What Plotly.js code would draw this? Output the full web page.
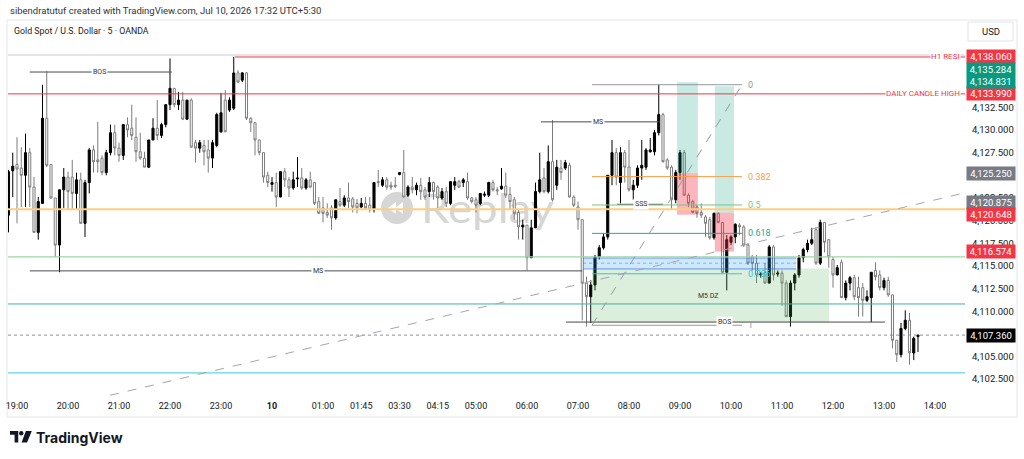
<!DOCTYPE html>
<html>
<head>
<meta charset="utf-8">
<script src="https://cdn.plot.ly/plotly-3.0.1.min.js"></script>
<style>
html,body{margin:0;padding:0;background:#ffffff;}
#chart{width:1024px;height:459px;}
</style>
</head>
<body>
<div id="chart"></div>
<script>
// ---------- DATA (XAU/USD 5-minute candles) ----------
const openPx = [
4120.6,4125.5,4126.2,4125.8,4125.0,4127.5,4123.7,4118.7,4121.9,4131.3,
4126.2,4122.5,4117.3,4123.4,4124.8,4124.8,4123.0,4124.5,4119.7,4124.2,
4127.8,4126.7,4126.9,4125.3,4127.5,4129.7,4128.0,4127.2,4130.6,4130.2,
4129.2,4127.6,4126.9,4125.9,4128.9,4130.2,4129.4,4130.6,4132.8,4134.6,
4132.8,4133.3,4131.2,4133.3,4128.6,4128.0,4128.3,4127.8,4126.9,4128.3,
4129.8,4133.3,4132.2,4132.4,4136.3,4135.5,4136.3,4131.3,4130.8,4128.9,
4127.5,4125.0,4124.0,4124.2,4122.6,4125.4,4124.5,4123.6,4124.6,4124.7,
4123.6,4124.5,4124.2,4122.1,4121.4,4120.9,4121.4,4120.3,4122.1,4121.7,
4122.5,4122.4,4121.9,4121.5,4121.9,4121.7,4121.2,4124.3,4123.9,4124.5,
4123.9,4123.9,4125.1,4125.3,4122.8,4123.7,4123.4,4123.9,4123.4,4123.2,
4124.2,4123.7,4122.5,4123.2,4121.9,4123.9,4124.3,4124.2,4124.3,4122.5,
4122.3,4121.9,4122.8,4122.8,4124.2,4123.4,4123.5,4123.8,4122.9,4122.3,
4120.9,4119.3,4119.5,4115.9,4119.2,4123.2,4124.7,4123.2,4126.5,4123.9,
4125.8,4125.8,4126.1,4122.6,4121.5,4120.1,4113.1,4111.6,4112.9,4116.0,
4117.0,4118.2,4125.0,4127.5,4124.2,4127.5,4125.9,4123.4,4123.9,4125.8,
4125.9,4127.6,4127.6,4129.7,4131.7,4126.7,4125.9,4122.3,4125.3,4127.5,
4122.8,4122.1,4121.5,4120.9,4120.4,4120.1,4118.1,4120.8,4119.8,4114.3,
4117.6,4118.2,4119.5,4119.3,4117.3,4116.0,4115.3,4114.0,4114.3,4113.1,
4117.1,4114.1,4114.2,4113.1,4109.4,4113.1,4114.0,4115.9,4116.8,4117.5,
4119.0,4115.3,4119.8,4117.9,4115.7,4114.0,4115.4,4111.5,4113.1,4113.7,
4112.6,4112.6,4111.2,4111.5,4114.5,4114.0,4112.6,4113.4,4111.8,4106.8,
4105.2,4108.1,4109.0,4105.4,4107.2];
const highPx = [
4125.6,4127.5,4129.2,4128.1,4129.6,4128.0,4124.8,4122.6,4135.0,4136.5,
4126.2,4122.5,4123.4,4125.8,4125.4,4126.7,4125.3,4125.3,4124.5,4128.0,
4128.3,4130.9,4127.2,4127.8,4130.6,4130.6,4128.6,4130.6,4131.4,4132.8,
4131.4,4129.7,4127.6,4128.9,4131.3,4133.3,4130.8,4132.8,4137.9,4134.6,
4134.2,4134.2,4133.3,4133.5,4128.9,4128.9,4128.9,4128.9,4128.9,4131.9,
4134.1,4134.4,4133.6,4138.06,4136.6,4136.4,4136.4,4131.4,4130.9,4128.9,
4127.5,4125.4,4124.8,4125.3,4125.4,4125.8,4124.8,4125.4,4127.0,4125.8,
4124.7,4125.4,4124.2,4122.6,4122.6,4121.9,4121.7,4122.3,4123.6,4122.8,
4124.2,4122.6,4122.4,4122.5,4122.6,4122.6,4124.2,4125.6,4124.8,4124.8,
4124.3,4124.8,4125.3,4127.8,4123.9,4124.8,4124.2,4124.7,4123.7,4124.8,
4124.3,4123.9,4123.6,4123.7,4124.3,4124.8,4124.5,4124.7,4125.3,4122.6,
4122.6,4123.0,4123.2,4124.3,4124.5,4123.7,4125.8,4125.3,4123.7,4122.6,
4121.2,4120.1,4119.5,4120.1,4124.2,4127.5,4125.8,4128.3,4131.1,4126.7,
4126.7,4126.7,4126.4,4122.8,4122.1,4120.1,4113.8,4113.4,4116.2,4117.3,
4118.6,4125.0,4128.9,4128.0,4128.1,4127.8,4128.9,4124.5,4126.1,4128.9,
4128.0,4129.1,4130.0,4135.0,4131.9,4126.9,4126.1,4125.6,4127.8,4127.8,
4123.0,4122.3,4121.7,4121.9,4120.6,4120.4,4120.9,4120.9,4119.8,4118.4,
4118.4,4119.7,4119.7,4119.5,4117.5,4116.2,4116.2,4114.3,4115.3,4117.3,
4117.3,4114.5,4114.5,4113.4,4113.4,4114.2,4116.2,4117.0,4117.9,4119.2,
4119.3,4120.1,4119.8,4117.9,4116.0,4115.1,4115.7,4113.4,4113.9,4114.0,
4113.8,4113.1,4112.3,4114.3,4115.4,4114.5,4113.7,4113.8,4111.8,4106.8,
4108.7,4110.1,4109.8,4107.2,4107.4];
const lowPx = [
4118.7,4122.6,4119.7,4121.5,4121.5,4121.5,4118.7,4117.9,4121.9,4125.9,
4122.4,4116.0,4114.3,4121.4,4121.2,4121.2,4121.2,4119.7,4118.2,4123.0,
4125.3,4125.3,4125.0,4125.0,4127.2,4127.2,4126.5,4126.7,4129.2,4128.9,
4126.5,4126.7,4125.9,4125.8,4128.9,4128.9,4129.1,4130.3,4132.2,4132.5,
4132.2,4131.1,4131.1,4128.1,4126.4,4127.5,4126.1,4125.3,4125.8,4128.1,
4129.7,4129.8,4132.0,4132.2,4135.2,4135.3,4131.1,4129.8,4127.2,4127.2,
4124.2,4123.7,4123.2,4121.5,4122.6,4123.7,4122.6,4123.4,4123.7,4123.4,
4123.4,4123.6,4121.7,4120.8,4119.8,4120.3,4119.0,4120.1,4121.5,4121.5,
4121.4,4120.9,4120.8,4121.4,4121.2,4120.9,4120.9,4123.7,4123.7,4123.4,
4123.4,4123.6,4125.0,4122.6,4122.6,4123.0,4122.8,4122.3,4122.3,4122.6,
4122.3,4121.4,4122.3,4121.5,4121.7,4123.4,4123.6,4123.7,4122.3,4121.9,
4120.9,4121.7,4122.6,4122.6,4123.2,4122.8,4123.4,4122.5,4121.2,4120.1,
4117.9,4117.9,4114.5,4115.9,4119.2,4123.0,4123.0,4123.0,4122.1,4123.4,
4124.5,4125.6,4122.6,4121.5,4119.0,4109.0,4108.3,4108.7,4112.3,4115.7,
4116.8,4117.9,4123.9,4123.9,4121.9,4124.2,4123.2,4122.3,4123.6,4124.5,
4125.6,4127.5,4127.2,4129.4,4126.4,4125.6,4121.2,4121.9,4124.5,4122.8,
4121.5,4120.8,4120.3,4120.3,4118.2,4117.9,4117.9,4119.7,4114.2,4112.3,
4117.3,4117.5,4118.4,4117.1,4115.1,4114.5,4113.1,4113.7,4113.1,4113.1,
4113.4,4113.8,4110.6,4109.4,4108.3,4112.3,4113.7,4115.4,4116.5,4117.3,
4115.1,4115.1,4116.5,4114.8,4112.6,4114.0,4111.5,4111.2,4112.3,4111.2,
4109.4,4109.4,4111.0,4108.8,4113.4,4112.3,4112.3,4111.6,4105.9,4104.4,
4104.9,4107.9,4104.1,4104.6,4105.5];
const closePx = [
4125.4,4126.0,4125.7,4125.0,4127.5,4123.7,4118.7,4122.1,4131.3,4126.1,
4122.5,4117.3,4123.4,4124.8,4123.2,4123.0,4124.5,4119.7,4124.2,4127.8,
4126.5,4126.5,4125.3,4127.5,4129.7,4128.0,4127.2,4130.6,4130.0,4129.4,
4127.6,4126.9,4125.9,4128.9,4130.2,4129.4,4130.6,4132.8,4134.6,4132.8,
4133.3,4131.2,4133.3,4128.1,4128.0,4128.6,4127.6,4126.9,4128.6,4131.7,
4131.9,4129.8,4133.3,4136.3,4135.3,4136.3,4131.3,4130.8,4128.9,4127.5,
4124.8,4124.2,4124.2,4122.6,4125.4,4124.5,4123.6,4124.5,4124.7,4123.6,
4124.5,4123.7,4121.9,4120.8,4120.8,4120.6,4120.3,4122.3,4121.7,4122.5,
4122.1,4121.5,4121.4,4121.9,4121.4,4121.2,4124.2,4124.2,4124.5,4123.7,
4123.7,4123.8,4125.3,4122.6,4123.7,4123.4,4123.9,4123.2,4122.6,4124.2,
4123.2,4122.5,4123.2,4121.9,4124.3,4124.3,4123.7,4124.5,4122.5,4122.1,
4121.7,4123.0,4122.9,4124.2,4123.4,4123.3,4123.8,4122.8,4122.1,4120.8,
4119.3,4119.5,4115.9,4119.2,4123.2,4124.5,4123.2,4126.5,4122.3,4125.9,
4125.3,4126.4,4122.6,4121.7,4120.1,4113.1,4111.6,4112.9,4116.0,4117.0,
4118.2,4125.0,4127.5,4124.8,4127.5,4125.9,4123.4,4123.9,4125.8,4126.1,
4127.8,4127.8,4129.7,4131.7,4126.5,4125.8,4122.3,4125.3,4127.5,4122.8,
4121.9,4120.9,4120.8,4120.6,4119.7,4118.1,4120.8,4119.8,4114.3,4117.9,
4118.2,4119.6,4119.3,4117.3,4115.3,4115.3,4114.0,4114.1,4113.1,4117.1,
4114.0,4114.2,4113.1,4109.4,4113.1,4114.0,4115.9,4116.8,4117.5,4117.9,
4115.3,4119.8,4117.6,4116.0,4114.0,4114.8,4111.5,4113.1,4113.7,4111.6,
4111.5,4111.2,4111.6,4114.3,4113.8,4112.6,4113.4,4111.8,4106.8,4105.2,
4108.1,4109.0,4105.4,4107.0,4107.36];

// bar number on the time axis (first visible bar is 18:50 = -2, 19:00 = 0)
const barNo = openPx.map((_, k) => k - 2);

// time-axis tick labels
const timeTickBars = [0,12,24,36,48,60,72,81,90,99,108,120,132,144,156,168,180,192,204,216];
const timeTickText = ['19:00','20:00','21:00','22:00','23:00','<b>10</b>','01:00','01:45','03:30','04:15','05:00','06:00','07:00','08:00','09:00','10:00','11:00','12:00','13:00','14:00'];

// price-axis tick labels (those hidden behind price tags in the reference are left out)
const priceTicks = [4102.5,4105,4110,4112.5,4115,4117.5,4120,4122.5,4127.5,4130,4132.5];
const priceTickText = ['4,102.500','4,105.000','4,110.000','4,112.500','4,115.000','4,117.500','4,120.000','4,122.500','4,127.500','4,130.000','4,132.500'];

// horizontal levels
const h1Resi = 4138.06, dailyHigh = 4133.99;
const orangeLevel = 4121.25, greenLevel = 4116.0, tealLevel = 4110.8, cyanLevel = 4103.2;
const lastPrice = 4107.36;

// structure labels (BOS / MS / SSS)
const structText  = ['BOS','MS','MS','SSS','BOS'];
const structPrice = [4136.4, 4114.45, 4130.9, 4121.8, 4108.8];
const structFrom  = [3, 3, 123.3, 141.2, 129.2];
const structTo    = [36.4, 133, 151.3, 152, 204.2];
const structTagAt = [19.5, 70.8, 136.7, 146.8, 166.4];

// fibonacci retracement
const fibRatios = [0, 0.382, 0.5, 0.618, 0.786, 1];
const fibText   = ['0','0.382','0.5','0.618','0.786','1'];
const fibColors = ['#9598a1','#f5a04a','#7cc47f','#26a69a','#38c4dc','#9598a1'];
const fibHigh = 4135.0, fibLow = 4108.45, fibFrom = 135.3, fibTo = 170.6;

// long position tools
const posFrom = [155.3, 164.2], posTo = [160.2, 168.7];
const posEntry  = [4125.25, 4120.875];
const posTarget = [4135.284, 4134.831];
const posStop   = [4120.648, 4116.574];

// zones
const dzFrom = 135.3, dzTo = 191.1, dzLow = 4108.8, dzHigh = 4114.7;
const blueFrom = 133.2, blueTo = 183.3, blueLow = 4114.66, blueMid = 4115.3, blueHigh = 4115.87;

// dashed trend line
const trendBars = [21.9, 223.06], trendPrices = [4100.72, 4123.07];

// price-scale tags
const tagText  = ['4,138.060','4,133.990','4,125.250','4,120.875','4,120.648','4,116.574','4,107.360'];
const tagPrice = [4138.06, 4133.99, 4125.25, 4122.05, 4120.648, 4116.574, 4107.36];
const tagColor = ['#f23645','#f23645','#787b86','#787b86','#f23645','#f23645','#000000'];

// ---------- LAYOUT HELPERS ----------
const PX = x => (x - 8) / 957;
const PY = y => (396 - y) / 341;
const FONT = 'Roboto, "Open Sans", sans-serif';

const shapes = [];
const annotations = [];

// outer frame, header divider, USD box
shapes.push({type:'rect', xref:'paper', yref:'paper', x0:PX(7), x1:PX(1017), y0:PY(417), y1:PY(20), line:{color:'#e4e6eb', width:1}, fillcolor:'rgba(0,0,0,0)', layer:'below'});
shapes.push({type:'line', xref:'paper', yref:'paper', x0:0, x1:1, y0:1, y1:1, line:{color:'#c9ccd3', width:1}});
shapes.push({type:'rect', xref:'paper', yref:'paper', x0:PX(968), x1:PX(1013), y0:PY(41), y1:PY(22), line:{color:'#e0e3eb', width:1}, fillcolor:'#ffffff'});

const fullLine = (p, color, width, dash) => ({type:'line', xref:'paper', yref:'y', x0:0, x1:1, y0:p, y1:p, line:{color, width, dash:dash||'solid'}});
const segLine = (a, b, p, color, width, dash) => ({type:'line', xref:'x', yref:'y', x0:a, x1:b, y0:p, y1:p, line:{color, width, dash:dash||'solid'}});

// zones (under lines)
shapes.push({type:'rect', xref:'x', yref:'y', x0:dzFrom, x1:dzTo, y0:dzLow, y1:dzHigh, fillcolor:'rgba(76,175,80,0.2)', line:{width:0}});
shapes.push({type:'rect', xref:'x', yref:'y', x0:blueFrom, x1:blueTo, y0:blueLow, y1:blueHigh, fillcolor:'rgba(33,150,243,0.22)', line:{width:0}});
shapes.push(segLine(blueFrom, blueTo, blueHigh, 'rgba(41,98,255,0.6)', 1));
shapes.push(segLine(blueFrom, blueTo, blueLow, 'rgba(41,98,255,0.6)', 1));
shapes.push(segLine(blueFrom, blueTo, blueMid, 'rgba(41,98,255,0.45)', 1, 'dot'));

// position tools
for (let k = 0; k < posFrom.length; k++) {
  shapes.push({type:'rect', xref:'x', yref:'y', x0:posFrom[k], x1:posTo[k], y0:posEntry[k], y1:posTarget[k], fillcolor:'rgba(8,153,129,0.22)', line:{width:0}});
  shapes.push({type:'rect', xref:'x', yref:'y', x0:posFrom[k], x1:posTo[k], y0:posStop[k], y1:posEntry[k], fillcolor:'rgba(242,54,69,0.36)', line:{width:0}});
}

// horizontal levels
shapes.push(segLine(51.3, 223.06, h1Resi, '#f23645', 1));
shapes.push(fullLine(dailyHigh, '#f23645', 1));
shapes.push(fullLine(orangeLevel, '#ffcc80', 2));
shapes.push(fullLine(greenLevel, '#9fd5a2', 1.2));
shapes.push(fullLine(tealLevel, '#3fb39c', 1));
shapes.push(fullLine(cyanLevel, '#5fd6e6', 1.3));
shapes.push(fullLine(lastPrice, '#8c8f99', 1, 'dot'));

// structure lines
for (let k = 0; k < structText.length; k++) {
  shapes.push(segLine(structFrom[k], structTo[k], structPrice[k], '#4a4a4a', 1));
  annotations.push({xref:'x', yref:'y', x:structTagAt[k], y:structPrice[k], text:structText[k], showarrow:false,
    font:{family:FONT, size:7, color:'#333333'}, bgcolor:'#ffffff', borderpad:1});
}

// fib retracement
const fibSpan = fibHigh - fibLow;
for (let k = 0; k < fibRatios.length; k++) {
  const p = fibHigh - fibRatios[k] * fibSpan;
  shapes.push(segLine(fibFrom, fibTo, p, fibColors[k], 1));
  annotations.push({xref:'x', yref:'y', x:171.5, y:p, xanchor:'left', text:fibText[k], showarrow:false,
    font:{family:FONT, size:9, color:fibColors[k]}});
}
shapes.push({type:'line', xref:'x', yref:'y', x0:fibFrom, x1:fibTo, y0:fibLow, y1:fibHigh, line:{color:'#9598a1', width:1, dash:'dash'}});

// long dashed trend line
shapes.push({type:'line', xref:'x', yref:'y', x0:trendBars[0], x1:trendBars[1], y0:trendPrices[0], y1:trendPrices[1], line:{color:'#a3a6ae', width:1, dash:'dash'}});

// text on levels
annotations.push({xref:'paper', yref:'y', x:PX(961), y:h1Resi, xanchor:'right', text:'H1 RESI', showarrow:false,
  font:{family:FONT, size:8, color:'#f23645'}, bgcolor:'#ffffff', borderpad:0});
annotations.push({xref:'paper', yref:'y', x:PX(961), y:dailyHigh, xanchor:'right', text:'DAILY CANDLE HIGH', showarrow:false,
  font:{family:FONT, size:8, color:'#f23645'}, bgcolor:'#ffffff', borderpad:0});
annotations.push({xref:'x', yref:'y', x:162.6, y:4111.68, text:'M5 DZ', showarrow:false,
  font:{family:FONT, size:7, color:'#333333'}});

// price-scale tags
for (let k = 0; k < tagText.length; k++) {
  annotations.push({xref:'paper', yref:'y', x:PX(966), y:tagPrice[k], xanchor:'left', yanchor:'middle', text:tagText[k], showarrow:false,
    font:{family:FONT, size:9.5, color:'#ffffff'}, bgcolor:tagColor[k], width:46, height:11, borderpad:1});
}
annotations.push({xref:'paper', yref:'y', x:PX(966), y:4135.98, xanchor:'left', yanchor:'middle', text:'4,135.284<br>4,134.831', showarrow:false,
  font:{family:FONT, size:9.5, color:'#ffffff'}, bgcolor:'#089981', width:46, height:23, borderpad:1});

// header / footer text
annotations.push({xref:'paper', yref:'paper', x:PX(8), y:PY(11), xanchor:'left', yanchor:'middle', showarrow:false,
  text:'sibendratutuf created with TradingView.com, Jul 10, 2026 17:32 UTC+5:30', font:{family:FONT, size:9.5, color:'#333333'}});
annotations.push({xref:'paper', yref:'paper', x:PX(12), y:PY(31), xanchor:'left', yanchor:'middle', showarrow:false,
  text:'Gold Spot / U.S. Dollar · 5 · OANDA', font:{family:FONT, size:8.8, color:'#222222'}});
annotations.push({xref:'paper', yref:'paper', x:PX(990.5), y:PY(31.5), xanchor:'center', yanchor:'middle', showarrow:false,
  text:'USD', font:{family:FONT, size:9.5, color:'#131722'}});
annotations.push({xref:'paper', yref:'paper', x:PX(34), y:PY(437.5), xanchor:'left', yanchor:'middle', showarrow:false,
  text:'<b>TradingView</b>', font:{family:'Inter, Roboto, sans-serif', size:14, color:'#131722'}});

// watermark + logo as images
const wmSvg = "<svg xmlns='http://www.w3.org/2000/svg' width='180' height='50' viewBox='0 0 180 50'>" +
  "<circle cx='18' cy='23' r='16' fill='#d6d6d6'/>" +
  "<path d='M9 23 L17 17 V29 Z M16 23 L24 17 V29 Z' fill='#ffffff'/>" +
  "<text x='42' y='38' font-family='Lato, Open Sans, sans-serif' font-size='40' textLength='133' lengthAdjust='spacingAndGlyphs' fill='#d6d6d6'>Replay</text></svg>";
const logoSvg = "<svg xmlns='http://www.w3.org/2000/svg' width='24' height='13' viewBox='0 0 24 13'>" +
  "<path d='M0 0 H9 V12.5 H5 V4 H0 Z' fill='#131722'/>" +
  "<circle cx='12.3' cy='2.4' r='2.4' fill='#131722'/>" +
  "<path d='M17.3 0 H23.8 L18.6 12.5 H12.6 Z' fill='#131722'/></svg>";
const images = [
  {source:'data:image/svg+xml;charset=utf-8,' + encodeURIComponent(wmSvg), xref:'paper', yref:'paper',
   x:PX(379), y:PY(185), sizex:180/957, sizey:50/341, xanchor:'left', yanchor:'top', sizing:'stretch', layer:'below'},
  {source:'data:image/svg+xml;charset=utf-8,' + encodeURIComponent(logoSvg), xref:'paper', yref:'paper',
   x:PX(10), y:PY(431), sizex:22/957, sizey:12/341, xanchor:'left', yanchor:'top', sizing:'stretch', layer:'above'}
];

const trace = {
  type:'candlestick', x:barNo, open:openPx, high:highPx, low:lowPx, close:closePx,
  increasing:{line:{color:'#000000', width:1}, fillcolor:'#000000'},
  decreasing:{line:{color:'#7d7d7d', width:1}, fillcolor:'#ffffff'},
  hoverinfo:'skip', showlegend:false
};

const layout = {
  width:1024, height:459,
  margin:{l:8, r:59, t:55, b:63},
  paper_bgcolor:'#ffffff', plot_bgcolor:'rgba(0,0,0,0)',
  showlegend:false,
  xaxis:{range:[-2.118, 223.06], showgrid:false, zeroline:false, showline:false, ticks:'',
    tickmode:'array', tickvals:timeTickBars, ticktext:timeTickText, ticklabelstandoff:3,
    tickfont:{family:FONT, size:9, color:'#131722'}, rangeslider:{visible:false}, fixedrange:true},
  yaxis:{range:[4100.64, 4138.28], side:'right', showgrid:false, zeroline:false, showline:false, ticks:'',
    tickmode:'array', tickvals:priceTicks, ticktext:priceTickText, ticklabelstandoff:6,
    tickfont:{family:FONT, size:9.5, color:'#131722'}, fixedrange:true},
  shapes:shapes, annotations:annotations, images:images
};

Plotly.newPlot('chart', [trace], layout, {displayModeBar:false, staticPlot:true});
</script>
</body>
</html>
